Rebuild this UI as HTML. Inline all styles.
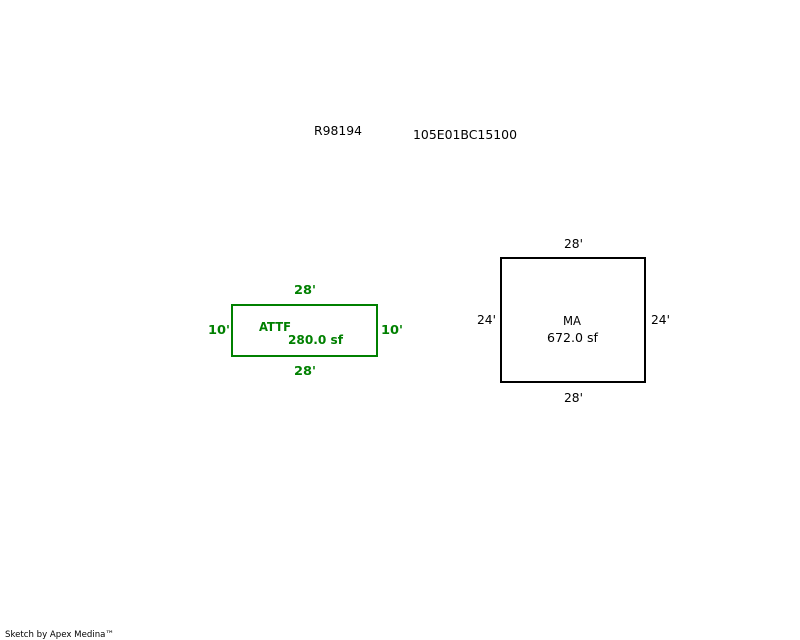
<!DOCTYPE html>
<html>
<head>
<meta charset="utf-8">
<style>
html,body{margin:0;padding:0;background:#fff;}
svg{display:block;}
text{font-family:"DejaVu Sans","Liberation Sans",sans-serif;font-size:12px;}
.k{fill:#000;}
.g{fill:#008000;font-weight:bold;font-size:12px;}
</style>
</head>
<body>
<svg width="800" height="640" viewBox="0 0 800 640" xmlns="http://www.w3.org/2000/svg">
<rect width="800" height="640" fill="#fff"/>
<text class="k" x="314" y="135" textLength="48" lengthAdjust="spacingAndGlyphs">R98194</text>
<text class="k" x="413" y="139" textLength="104" lengthAdjust="spacingAndGlyphs">105E01BC15100</text>

<rect x="232" y="305" width="145" height="51" fill="none" stroke="#008000" stroke-width="2" shape-rendering="crispEdges"/>
<text class="g" x="294" y="294" textLength="22" lengthAdjust="spacingAndGlyphs">28'</text>
<text class="g" x="294" y="375" textLength="22" lengthAdjust="spacingAndGlyphs">28'</text>
<text class="g" x="208" y="334" textLength="22" lengthAdjust="spacingAndGlyphs">10'</text>
<text class="g" x="381" y="334" textLength="22" lengthAdjust="spacingAndGlyphs">10'</text>
<text class="g" x="259" y="331" textLength="32" lengthAdjust="spacingAndGlyphs">ATTF</text>
<text class="g" x="288" y="344" textLength="55" lengthAdjust="spacingAndGlyphs">280.0 sf</text>

<rect x="501" y="258" width="144" height="124" fill="none" stroke="#000" stroke-width="2" shape-rendering="crispEdges"/>
<text class="k" x="564" y="248" textLength="19" lengthAdjust="spacingAndGlyphs">28'</text>
<text class="k" x="564" y="402" textLength="19" lengthAdjust="spacingAndGlyphs">28'</text>
<text class="k" x="477" y="324" textLength="19" lengthAdjust="spacingAndGlyphs">24'</text>
<text class="k" x="651" y="324" textLength="19" lengthAdjust="spacingAndGlyphs">24'</text>
<text class="k" x="563" y="325" textLength="18" lengthAdjust="spacingAndGlyphs">MA</text>
<text class="k" x="547" y="342" textLength="51" lengthAdjust="spacingAndGlyphs">672.0 sf</text>

<text x="5" y="637" fill="#000" style="font-size:9px" textLength="109" lengthAdjust="spacingAndGlyphs">Sketch by Apex Medina™</text>
</svg>
</body>
</html>
